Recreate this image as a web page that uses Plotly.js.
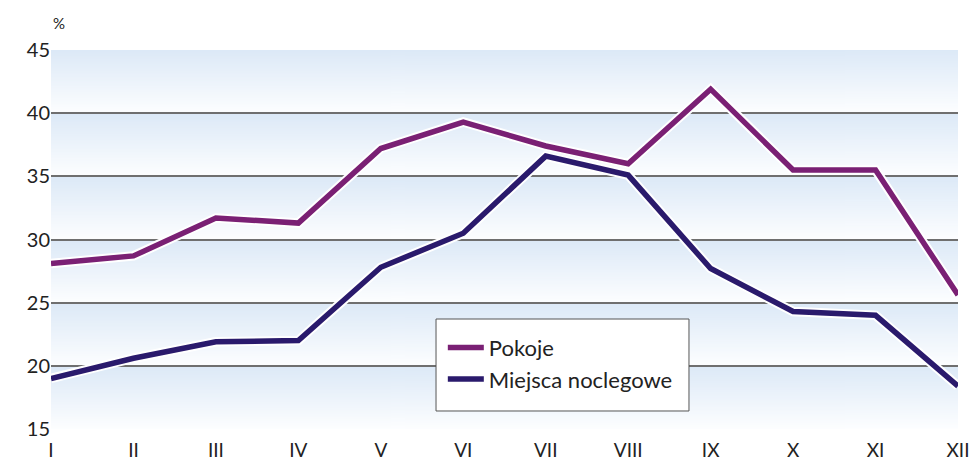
<!DOCTYPE html>
<html>
<head>
<meta charset="utf-8">
<script src="https://cdn.plot.ly/plotly-3.0.1.min.js"></script>
<style>html,body{margin:0;padding:0;background:#fff;}#chart{width:972px;height:462px;}</style>
</head>
<body>
<div id="chart"></div>
<script>
const months = ["I","II","III","IV","V","VI","VII","VIII","IX","X","XI","XII"];
const pokoje = [28.1, 28.7, 31.7, 31.3, 37.2, 39.3, 37.4, 36.0, 41.9, 35.5, 35.5, 25.6];
const miejsca = [19.0, 20.6, 21.9, 22.0, 27.8, 30.5, 36.6, 35.1, 27.7, 24.3, 24.0, 18.4];
const yTicks = [15, 20, 25, 30, 35, 40, 45];
const seriesNames = ["Pokoje", "Miejsca noclegowe"];
const seriesColors = ["#7a2074", "#2a1a6c"];

// gradient band image
const cv = document.createElement('canvas');
cv.width = 4; cv.height = 200;
const ctx = cv.getContext('2d');
const g = ctx.createLinearGradient(0, 0, 0, 200);
g.addColorStop(0, '#dce9f7');
g.addColorStop(1, '#fdfeff');
ctx.fillStyle = g; ctx.fillRect(0, 0, 4, 200);
const gradURL = cv.toDataURL();

const images = [];
for (let i = 0; i < yTicks.length - 1; i++) {
  images.push({
    source: gradURL, xref: 'paper', yref: 'y', x: 0, y: yTicks[i + 1],
    sizex: 1, sizey: yTicks[i + 1] - yTicks[i], sizing: 'stretch',
    xanchor: 'left', yanchor: 'top', layer: 'below'
  });
}

const xIdx = months.map((m, i) => i);
const data = [];
[pokoje, miejsca].forEach((vals, k) => {
  data.push({x: xIdx, y: vals, type: 'scatter', mode: 'lines', showlegend: false, hoverinfo: 'skip',
    line: {color: '#ffffff', width: 9.5}});
  data.push({x: xIdx, y: vals, type: 'scatter', mode: 'lines', name: seriesNames[k],
    legendgroup: 'g' + k, line: {color: seriesColors[k], width: 5.5}});
});

const layout = {
  width: 972, height: 462,
  margin: {l: 51, r: 14, t: 50, b: 33},
  paper_bgcolor: '#ffffff', plot_bgcolor: '#ffffff',
  font: {family: 'Lato, "Open Sans", sans-serif', color: '#222'},
  images: images,
  shapes: [{
    type: 'rect', xref: 'paper', yref: 'paper', x0: 0.4245, x1: 0.7034, y0: 0.0475, y1: 0.2902,
    fillcolor: '#ffffff', line: {color: '#555555', width: 1}, layer: 'above'
  }],
  xaxis: {
    range: [0, 11], tickvals: xIdx, ticktext: months, showgrid: false, zeroline: false,
    showline: false, ticks: '', tickfont: {size: 19, color: '#222'}, ticklabelstandoff: 8, fixedrange: true
  },
  yaxis: {
    range: [15, 45], tickvals: yTicks, showgrid: true, gridcolor: '#6f6f6f', gridwidth: 2,
    zeroline: false, showline: false, ticks: '', tickfont: {size: 20, color: '#222'}, fixedrange: true
  },
  legend: {
    x: 0.432, y: 0.27, xanchor: 'left', yanchor: 'top', bgcolor: 'rgba(0,0,0,0)',
    borderwidth: 0, font: {size: 22, color: '#222'},
    tracegroupgap: 0, itemwidth: 36
  },
  annotations: [{
    text: '%', xref: 'paper', yref: 'paper', x: 0, y: 1, yshift: 27, xanchor: 'left', yanchor: 'middle',
    showarrow: false, font: {size: 15, color: '#222'}
  }],
  showlegend: true
};

Plotly.newPlot('chart', data, layout, {staticPlot: true});
</script>
</body>
</html>
